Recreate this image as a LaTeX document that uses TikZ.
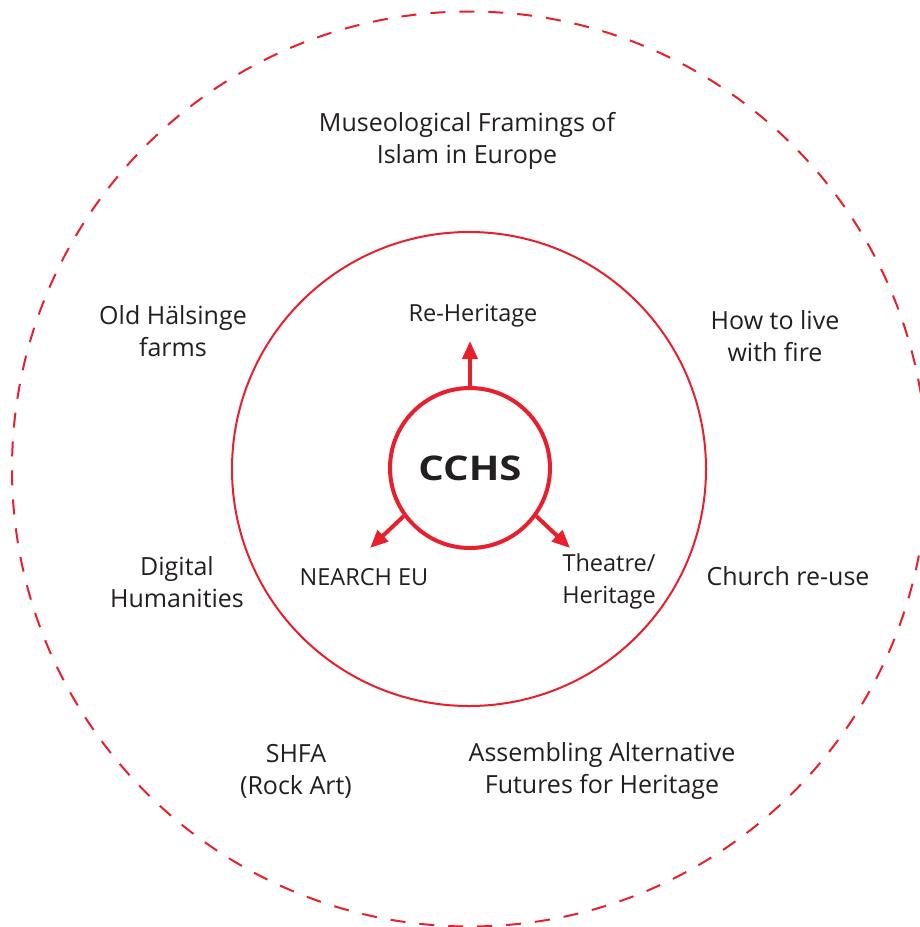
\documentclass[tikz,border=0pt]{standalone}
\usepackage{fontspec}
\setmainfont{Open Sans}
\usetikzlibrary{arrows.meta}
\definecolor{cred}{HTML}{E8202E}
\definecolor{ctext}{HTML}{231F20}
\begin{document}
\begin{tikzpicture}[x=1pt,y=-1pt,
  lbl/.style={text=ctext,align=center,font=\fontsize{25}{32}\selectfont,inner sep=0pt},
  ilbl/.style={text=ctext,align=center,font=\fontsize{23.5}{32}\selectfont,inner sep=0pt},
  arr/.style={draw=cred,line width=4pt,-{Triangle[length=18pt,width=15pt]}}]
\useasboundingbox (0,0) rectangle (920,927);
\fill[white] (0,0) rectangle (920,927);
% outer dashed circle
\draw[cred,line width=2pt,dash pattern=on 15pt off 14pt] (469.5,469) circle[radius=457.5];
% inner circle
\draw[cred,line width=2pt] (469,469) circle[radius=237];
% centre
\node[circle,draw=cred,line width=4pt,minimum size=160pt,inner sep=0pt,
      text=ctext,font=\fontsize{34}{36}\selectfont\bfseries] (cchs) at (470,468) {\scalebox{1.18}[1]{CCHS}};
\coordinate (tipN) at (470,341);
\coordinate (tipL) at (370,548);
\coordinate (tipR) at (570,548);
\draw[arr] (cchs.90) -- (tipN);
\draw[arr] (cchs.216) -- (tipL);
\draw[arr] (cchs.-36) -- (tipR);
% inner labels
\node[ilbl] (reh) at (473,316) {Re-Heritage};
\node[ilbl] (nearch) at (364,577) {NEARCH EU};
\node[ilbl] (theatre) at (609,581) {Theatre/\\Heritage};
% outer labels
\node[lbl] (museo) at (467,141) {Museological Framings of\\Islam in Europe};
\node[lbl] (hals) at (173,331) {Old Hälsinge\\farms};
\node[lbl] (fire) at (775,336) {How to live\\with fire};
\node[lbl] (digi) at (177,582) {Digital\\Humanities};
\node[lbl] (church) at (788,576) {Church re-use};
\node[lbl] (shfa) at (296,771) {SHFA\\(Rock Art)};
\node[lbl] (assem) at (602,771) {Assembling Alternative\\Futures for Heritage};
\end{tikzpicture}
\end{document}
